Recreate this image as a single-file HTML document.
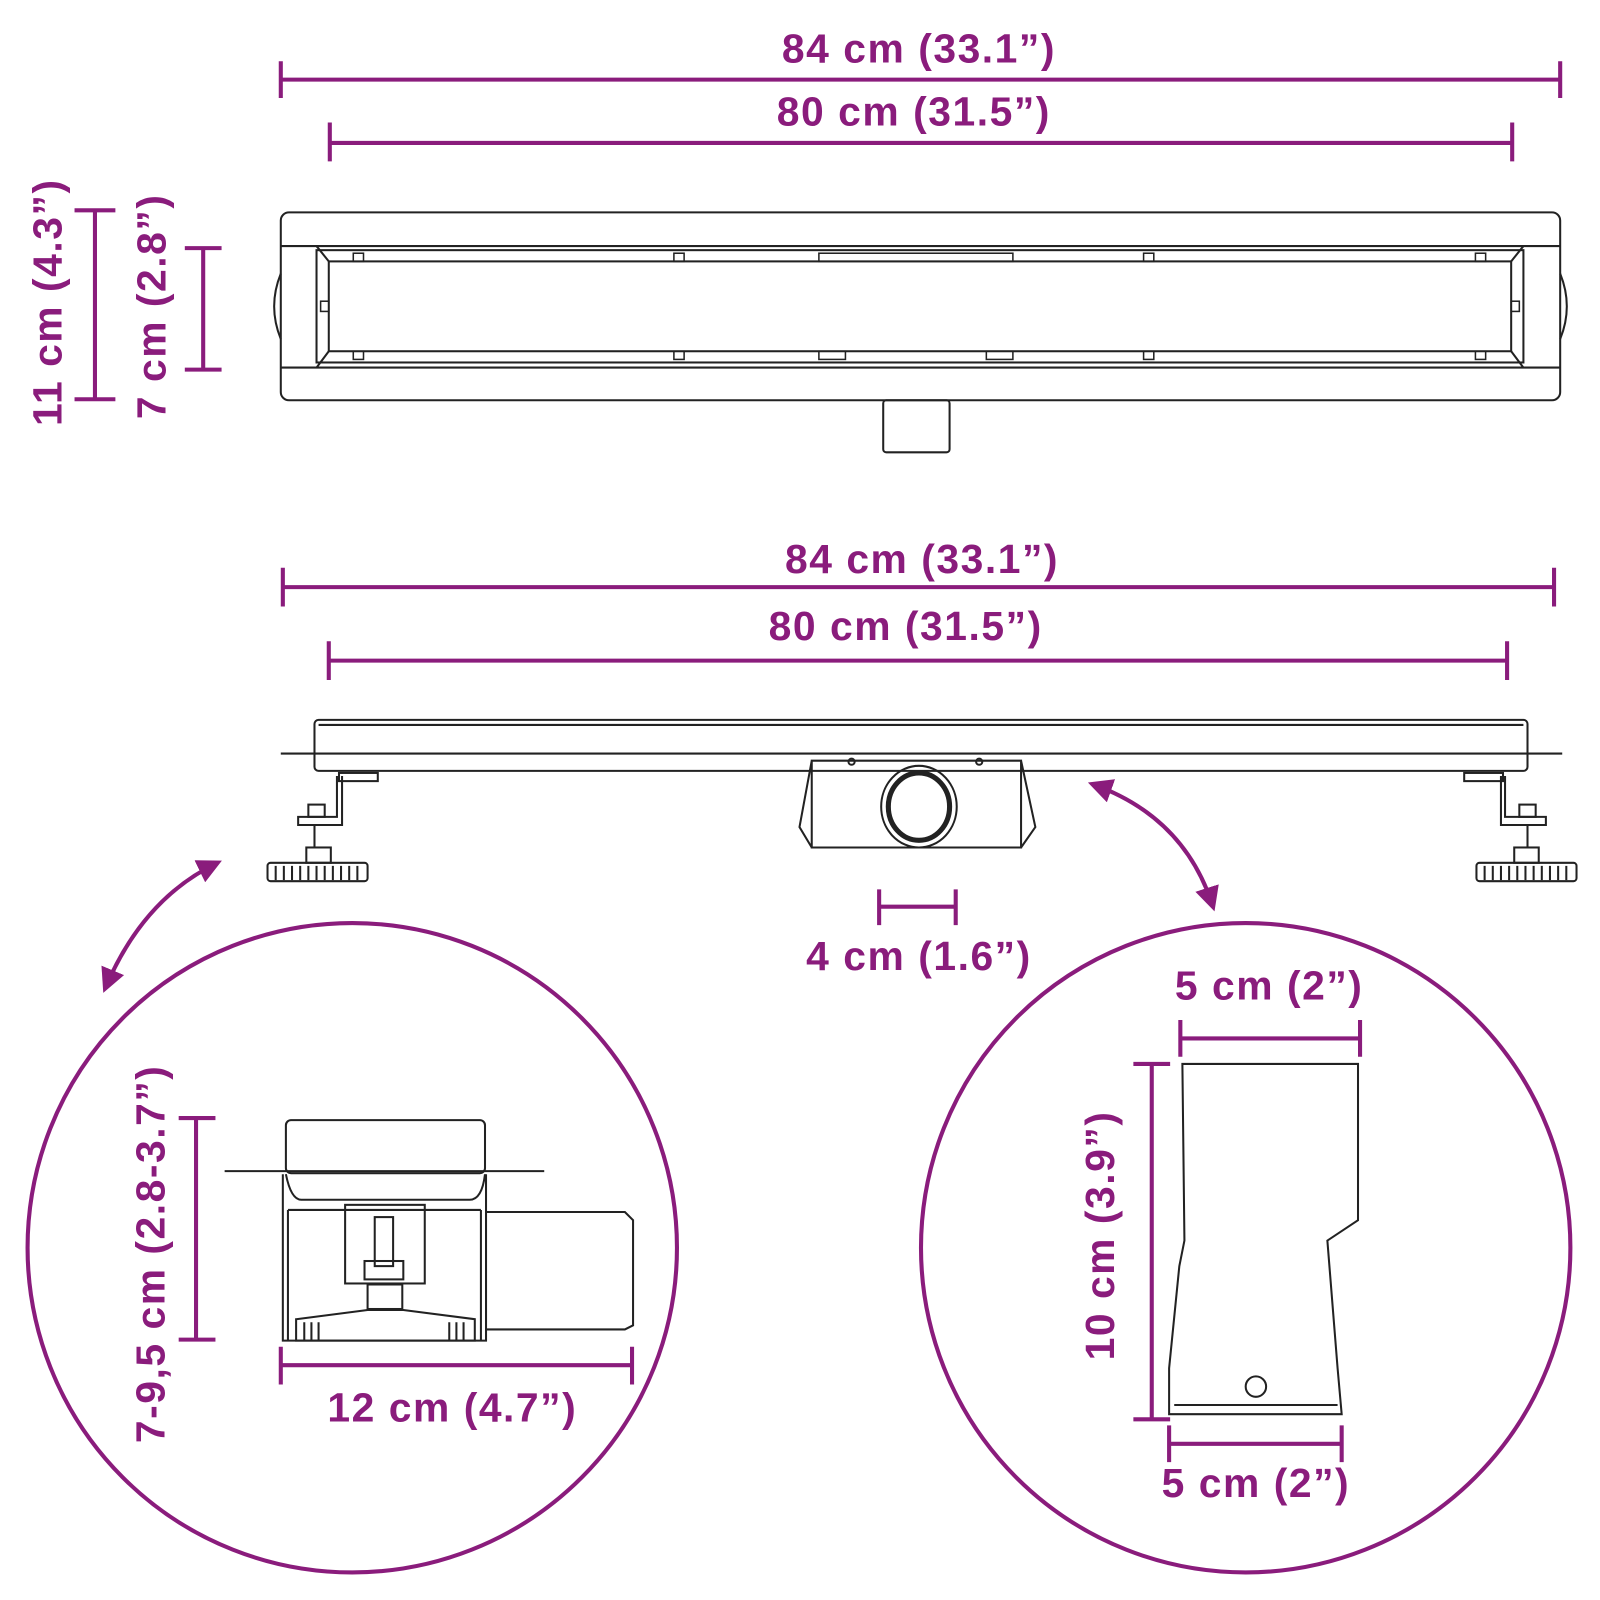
<!DOCTYPE html>
<html><head><meta charset="utf-8"><style>html,body{margin:0;padding:0;background:#fff}svg{display:block}</style></head>
<body>
<svg width="1600" height="1600" viewBox="0 0 1567 1567" xmlns="http://www.w3.org/2000/svg">
<defs>
<marker id="ah" viewBox="0 0 10 10" refX="8" refY="5" markerWidth="6" markerHeight="6" orient="auto-start-reverse"><path d="M0,0 L10,5 L0,10 z" fill="#8a1c7c"/></marker>
</defs>
<g font-family="Liberation Sans, sans-serif" font-weight="bold" font-size="40" letter-spacing="1.5" fill="#8a1c7c" text-anchor="middle">
<text x="900" y="61">84 cm (33.1”)</text>
<text x="895" y="123">80 cm (31.5”)</text>
<text x="903" y="561">84 cm (33.1”)</text>
<text x="887" y="627">80 cm (31.5”)</text>
<text x="900" y="950">4 cm (1.6”)</text>
<text x="443" y="1392">12 cm (4.7”)</text>
<text x="1243" y="979">5 cm (2”)</text>
<text x="1230" y="1466">5 cm (2”)</text>
<text transform="translate(60,296) rotate(-90)">11 cm (4.3”)</text>
<text transform="translate(162,300) rotate(-90)">7 cm (2.8”)</text>
<text transform="translate(161,1228) rotate(-90)">7-9,5 cm (2.8-3.7”)</text>
<text transform="translate(1091,1210) rotate(-90)">10 cm (3.9”)</text>
</g>
<g stroke="#8a1c7c" stroke-width="4" fill="none">
<path d="M275,78H1528M275,60V96M1528,60V96"/>
<path d="M323,140H1481M323,120V158M1481,120V158"/>
<path d="M93,206V391M73,206H113M73,391H113"/>
<path d="M199,243V362M181,243H217M181,362H217"/>
<path d="M277,575H1522M277,556V594M1522,556V594"/>
<path d="M322,647H1476M322,628V666M1476,628V666"/>
<path d="M861,888H936M861,871V906M936,871V906"/>
<path d="M192,1095V1312M175,1095H211M175,1312H211"/>
<path d="M275,1337H619M275,1319V1356M619,1319V1356"/>
<path d="M1156,1017H1332M1156,999V1035M1332,999V1035"/>
<path d="M1128,1042V1390M1110,1042H1146M1110,1390H1146"/>
<path d="M1145,1414H1314M1145,1396V1432M1314,1396V1432"/>
<circle cx="345" cy="1222" r="318"/>
<circle cx="1220" cy="1222" r="318"/>
<path d="M213,845 Q140,880 103,968" marker-end="url(#ah)" marker-start="url(#ah)"/>
<path d="M1070,768 Q1160,800 1188,888" marker-end="url(#ah)" marker-start="url(#ah)"/>
</g>
<g stroke="#222" stroke-width="2" fill="none">
<rect x="275" y="208" width="1253" height="184" rx="8"/>
<path d="M275,241H1528M275,360H1528"/>
<rect x="310" y="245" width="1182" height="110"/>
<rect x="322" y="256" width="1158" height="88"/>
<path d="M310,241L322,256M1492,241L1480,256M310,360L322,344M1492,360L1480,344"/>
<path d="M275,268Q262,300 275,332M1528,268Q1541,300 1528,332"/>
<rect x="865" y="392" width="65" height="51" rx="3"/>
<g stroke-width="1.5">
<rect x="346" y="248" width="10" height="8"/><rect x="660" y="248" width="10" height="8"/><rect x="1120" y="248" width="10" height="8"/><rect x="1445" y="248" width="10" height="8"/>
<rect x="346" y="344" width="10" height="8"/><rect x="660" y="344" width="10" height="8"/><rect x="1120" y="344" width="10" height="8"/><rect x="1445" y="344" width="10" height="8"/>
<rect x="802" y="248" width="190" height="8"/><rect x="802" y="344" width="26" height="8"/><rect x="966" y="344" width="26" height="8"/>
<rect x="314" y="295" width="8" height="10"/><rect x="1480" y="295" width="8" height="10"/>
</g>
<rect x="308" y="705" width="1188" height="50" rx="4"/>
<path d="M312,710H1492M275,738H1530"/>
<path d="M795,745H1000V830H795ZM795,745L783,810L795,830M1000,745L1014,810L1000,830"/>
<circle cx="834" cy="746" r="3"/><circle cx="959" cy="746" r="3"/>
<ellipse cx="900" cy="790" rx="37" ry="40"/>
<ellipse cx="900" cy="790" rx="30" ry="33" stroke-width="5"/>
<path d="M330,760V800H292V808H335V760M308,808V830"/>
<rect x="332" y="757" width="38" height="8"/>
<rect x="302" y="788" width="16" height="12"/>
<rect x="262" y="845" width="98" height="18" rx="3"/>
<path d="M270,848V862M278,848V862M286,848V862M294,848V862M302,848V862M310,848V862M318,848V862M326,848V862M334,848V862M342,848V862M350,848V862"/>
<rect x="300" y="830" width="24" height="15"/>
<path d="M1474,760V800H1514V808H1470V760M1496,808V830"/>
<rect x="1434" y="757" width="38" height="8"/>
<rect x="1488" y="788" width="16" height="12"/>
<rect x="1446" y="845" width="98" height="18" rx="3"/>
<path d="M1454,848V862M1462,848V862M1470,848V862M1478,848V862M1486,848V862M1494,848V862M1502,848V862M1510,848V862M1518,848V862M1526,848V862M1534,848V862"/>
<rect x="1483" y="830" width="24" height="15"/>
<rect x="280" y="1097" width="195" height="52" rx="5"/>
<path d="M220,1147H533"/>
<path d="M280,1150Q285,1175 295,1175H460Q472,1175 475,1150"/>
<path d="M277,1150V1313H476V1150M282,1185V1313M471,1185V1313M282,1185H471"/>
<path d="M476,1187H612L620,1195V1298L612,1302H476"/>
<rect x="338" y="1180" width="78" height="77"/>
<rect x="367" y="1192" width="18" height="48"/>
<rect x="357" y="1235" width="38" height="18"/>
<rect x="360" y="1258" width="34" height="24"/>
<path d="M290,1292L360,1283H395L465,1292V1313H290Z"/>
<path d="M298,1295V1313M305,1295V1313M312,1295V1313M440,1295V1313M447,1295V1313M454,1295V1313"/>
<path d="M1158,1042H1330V1195L1300,1215L1310,1340L1314,1385H1145V1340L1155,1240L1160,1215Z"/>
<path d="M1150,1376H1310"/>
<circle cx="1230" cy="1358" r="10"/>
</g>
</svg>
</body></html>
